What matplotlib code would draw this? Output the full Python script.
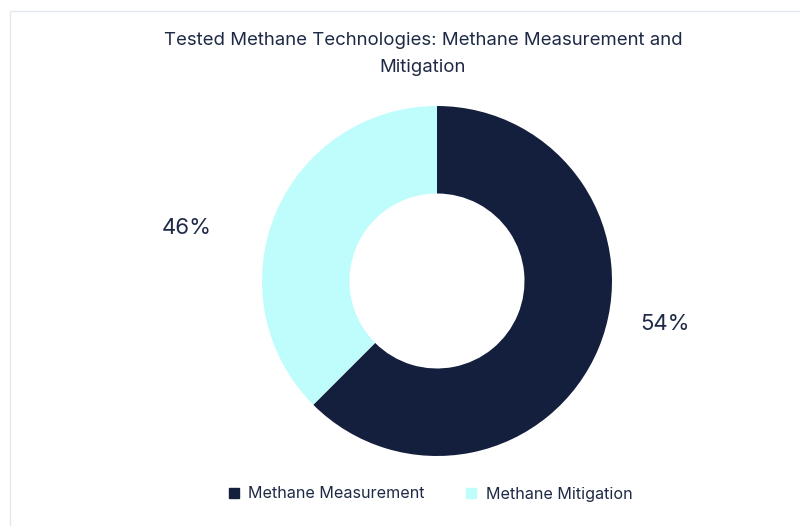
import matplotlib
matplotlib.use('Agg')
import matplotlib.pyplot as plt
from matplotlib.lines import Line2D
from matplotlib.patches import Rectangle

plt.rcParams['font.family'] = ['Inter', 'DejaVu Sans']

# data
categories = ['Methane Measurement', 'Methane Mitigation']
shares = [62.5, 37.5]          # drawn wedge sizes
pct_labels = ['54%', '46%']    # printed labels
colors = ['#141f3d', '#bffcfc']
text_color = '#1e2a45'

W, H = 800, 526
fig = plt.figure(figsize=(W / 100, H / 100), dpi=100)
ax = fig.add_axes([0, 0, 1, 1])

# card border (clipped at right / bottom)
fig.patches.append(Rectangle((10 / W, -0.1), 1.2, 1 - 11 / H + 0.1,
                             transform=fig.transFigure, fill=False,
                             edgecolor='#e3e8ee', linewidth=1))

cx, cy, r = 437, H - 281, 175
wedges, _ = ax.pie(shares, colors=colors, startangle=90, counterclock=False,
                   radius=r, center=(cx, cy), frame=True,
                   wedgeprops=dict(width=r * 0.5, linewidth=0))
ax.set_xlim(0, W)
ax.set_ylim(0, H)
ax.set_aspect('equal')
ax.axis('off')

label_pos = [(665, H - 324), (187, H - 228)]
for (x, y), t in zip(label_pos, pct_labels):
    ax.text(x, y, t, ha='center', va='center', fontsize=16, color=text_color)

fig.text(423 / W, 1 - 54 / H,
         'Tested Methane Technologies: Methane Measurement and\nMitigation',
         ha='center', va='center', fontsize=13.4, color=text_color,
         linespacing=1.7)

handles = [Line2D([], [], marker='s', linestyle='none', markersize=7,
                  markerfacecolor=c, markeredgecolor=c) for c in colors]
fig.legend(handles, categories, loc='center', ncol=2,
           bbox_to_anchor=(429 / W, 1 - 494 / H), frameon=False,
           fontsize=11.6, labelcolor=text_color, handletextpad=0.4,
           columnspacing=2.4, handlelength=1.0)

fig.savefig('out.png', dpi=100)
